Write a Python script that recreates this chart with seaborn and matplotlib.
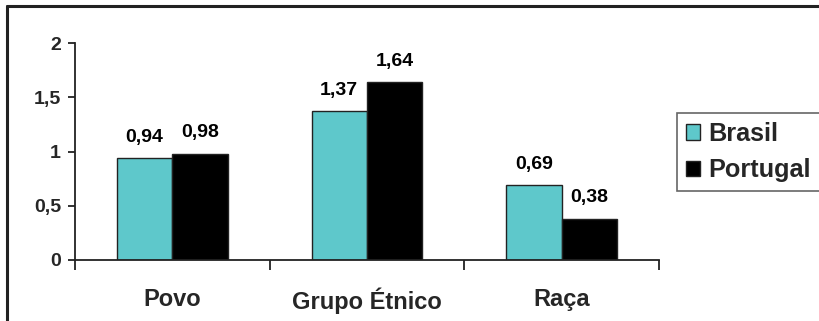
import matplotlib
matplotlib.use("Agg")
import matplotlib.pyplot as plt
from matplotlib.lines import Line2D
import seaborn as sns
import pandas as pd

categorias = ["Povo", "Grupo Étnico", "Raça"]
brasil = [0.94, 1.37, 0.69]
portugal = [0.98, 1.64, 0.38]
paises = ["Brasil", "Portugal"]
yticks = [0, 0.5, 1, 1.5, 2]

sns.set_style("white")
plt.rcParams["font.family"] = ["Liberation Sans", "DejaVu Sans"]
plt.rcParams["font.weight"] = "bold"

df = pd.DataFrame({
    "categoria": categorias * 2,
    "valor": brasil + portugal,
    "pais": [paises[0]] * 3 + [paises[1]] * 3,
})

fig = plt.figure(figsize=(8.19, 3.21), dpi=100)
ax = fig.add_axes([75 / 819, 61 / 321, 584 / 819, 217 / 321])

sns.barplot(data=df, x="categoria", y="valor", hue="pais",
            palette=["#5EC8CB", "#000000"], saturation=1, width=0.57,
            edgecolor="#222222", linewidth=1.0, ax=ax, legend=True)

fmt = lambda v: f"{v:.2f}".replace(".", ",")
for cont in ax.containers:
    ax.bar_label(cont, labels=[fmt(b.get_height()) for b in cont],
                 padding=9, fontsize=14, fontweight="bold", color="black")

ax.set_xlim(-0.5, 2.5)
ax.set_ylim(0, 2)
ax.set_yticks(yticks)
ax.set_yticklabels([f"{t:g}".replace(".", ",") for t in yticks],
                   fontsize=14, fontweight="bold")
ax.set_xticks([-0.5, 0.5, 1.5, 2.5])
ax.set_xticklabels([])
ax.set_xticks([0, 1, 2], minor=True)
ax.set_xticklabels(categorias, minor=True, fontsize=17, fontweight="bold")
ax.tick_params(axis="x", which="major", direction="out", length=7, width=1.3,
               color="#222222", bottom=True)
ax.tick_params(axis="x", which="minor", length=0, pad=20)
ax.tick_params(axis="y", direction="out", length=5, width=1.3,
               color="#222222", left=True, pad=5)
ax.set_xlabel("")
ax.set_ylabel("")
for s in ["top", "right"]:
    ax.spines[s].set_visible(False)
for s in ["left", "bottom"]:
    ax.spines[s].set_color("#222222")
    ax.spines[s].set_linewidth(1.3)

handles, labels = ax.get_legend_handles_labels()
ax.legend_.remove()
leg = fig.legend(handles, labels, loc="upper left",
                 bbox_to_anchor=(677 / 819, 1 - 113 / 321),
                 prop={"size": 18.2, "weight": "bold"},
                 fancybox=False, edgecolor="#666666", framealpha=1,
                 handlelength=0.55, handleheight=0.55, handletextpad=0.35,
                 borderpad=0.35, labelspacing=0.5, borderaxespad=0)
leg.get_frame().set_linewidth(1.2)

# outer frame lines along top and left edge
fig.add_artist(Line2D([7 / 819, 1], [1 - 6 / 321, 1 - 6 / 321],
                      transform=fig.transFigure, color="#222222", lw=2.2))
fig.add_artist(Line2D([7 / 819, 7 / 819], [0, 1 - 6 / 321],
                      transform=fig.transFigure, color="#222222", lw=2.2))

fig.savefig("out.png", dpi=100)
